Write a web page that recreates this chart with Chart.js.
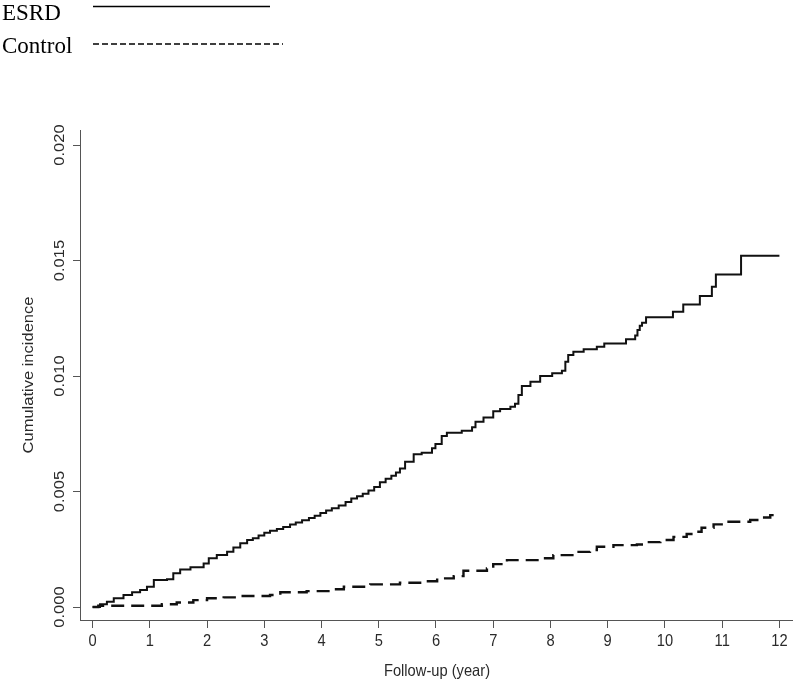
<!DOCTYPE html>
<html>
<head>
<meta charset="utf-8">
<script src="https://cdn.jsdelivr.net/npm/chart.js@4.4.0/dist/chart.umd.min.js"></script>
<style>
  html, body { margin: 0; padding: 0; background: #fff; }
  #wrap { width: 800px; height: 683px; }
</style>
</head>
<body>
<div id="wrap"><canvas id="incChart" width="800" height="683"></canvas></div>
<script>
// ===== DATA =====
const esrdTime = [
  0, 0.13, 0.25, 0.37, 0.54, 0.69, 0.83, 0.95, 1.07, 1.30,
  1.41, 1.53, 1.71, 1.94, 2.03, 2.17, 2.35, 2.46, 2.58, 2.70,
  2.80, 2.90, 3.00, 3.10, 3.22, 3.33, 3.45, 3.55, 3.66, 3.78,
  3.88, 3.98, 4.08, 4.18, 4.30, 4.42, 4.52, 4.62, 4.72, 4.82,
  4.92, 5.02, 5.12, 5.22, 5.30, 5.37, 5.46, 5.61, 5.75, 5.93,
  5.99, 6.10, 6.19, 6.45, 6.63, 6.69, 6.83, 7.00, 7.12, 7.30,
  7.38, 7.44, 7.50, 7.65, 7.82, 8.03, 8.20, 8.26, 8.31, 8.40,
  8.58, 8.81, 8.94, 9.32, 9.48, 9.52, 9.56, 9.60, 9.67, 10.14,
  10.32, 10.61, 10.82, 10.89, 11.33, 12.00
];
const esrdCum = [
  0, 0.00012, 0.00023, 0.00038, 0.00052, 0.00064, 0.00074, 0.00088, 0.00117, 0.00120,
  0.00146, 0.00163, 0.00172, 0.00189, 0.00211, 0.00225, 0.00239, 0.00258, 0.00276, 0.00290,
  0.00298, 0.00310, 0.00322, 0.00330, 0.00338, 0.00347, 0.00357, 0.00366, 0.00376, 0.00385,
  0.00395, 0.00407, 0.00418, 0.00428, 0.00440, 0.00455, 0.00470, 0.00480, 0.00490, 0.00505,
  0.00520, 0.00540, 0.00555, 0.00568, 0.00582, 0.00600, 0.00629, 0.00662, 0.00668, 0.00687,
  0.00706, 0.00740, 0.00755, 0.00763, 0.00778, 0.00802, 0.00820, 0.00848, 0.00857, 0.00867,
  0.00880, 0.00918, 0.00957, 0.00975, 0.01000, 0.01012, 0.01023, 0.01062, 0.01091, 0.01105,
  0.01116, 0.01127, 0.01141, 0.01159, 0.01175, 0.01199, 0.01218, 0.01231, 0.01255, 0.01278,
  0.01310, 0.01346, 0.01387, 0.01439, 0.01521, 0.01521
];

const ctrlTime = [
  0, 0.10, 1.21, 1.47, 1.76, 2.00, 2.29, 2.52, 3.10, 3.28,
  3.74, 4.21, 4.39, 4.85, 5.37, 5.81, 6.02, 6.31, 6.48, 6.89,
  7.00, 7.24, 7.82, 8.05, 8.46, 8.69, 8.81, 9.10, 9.51, 9.62,
  9.92, 10.15, 10.38, 10.50, 10.64, 10.85, 11.08, 11.49, 11.66, 11.84,
  11.98
];
const ctrlCum = [
  0, 0.00006, 0.00012, 0.00020, 0.00030, 0.00038, 0.00042, 0.00048, 0.00052, 0.00064,
  0.00069, 0.00077, 0.00088, 0.00098, 0.00105, 0.00112, 0.00124, 0.00134, 0.00157, 0.00167,
  0.00186, 0.00203, 0.00211, 0.00225, 0.00239, 0.00247, 0.00261, 0.00268, 0.00271, 0.00281,
  0.00290, 0.00304, 0.00316, 0.00326, 0.00343, 0.00358, 0.00369, 0.00377, 0.00388, 0.00398,
  0.00406
];

const seriesNames = ['ESRD', 'Control'];
const xTicks = [0, 1, 2, 3, 4, 5, 6, 7, 8, 9, 10, 11, 12];
const yTicks = [0, 0.005, 0.010, 0.015, 0.020];
const yTickLabels = ['0.000', '0.005', '0.010', '0.015', '0.020'];
const xTitle = 'Follow-up (year)';
const yTitle = 'Cumulative incidence';

const toPoints = (ts, vs) => ts.map((t, i) => ({ x: t, y: vs[i] }));

// ===== TEXT + LEGEND (drawn like the R plot) =====
const SANS = '"Liberation Sans", Arial, sans-serif';
const SQUEEZE = 0.89;

const rText = {
  id: 'rText',
  afterDraw(chart) {
    const c = chart.ctx;
    const xs = chart.scales.x, ys = chart.scales.y;
    c.save();
    c.fillStyle = '#2a2a2a';
    c.font = '16.5px ' + SANS;
    c.textAlign = 'center';
    c.textBaseline = 'alphabetic';

    xTicks.forEach(v => {
      c.save();
      c.translate(xs.getPixelForValue(v), 646);
      c.scale(SQUEEZE, 1);
      c.fillText(String(v), 0, 0);
      c.restore();
    });

    yTicks.forEach((v, i) => {
      c.save();
      c.translate(63.5, ys.getPixelForValue(v));
      c.rotate(-Math.PI / 2);
      c.scale(1, SQUEEZE);
      c.fillText(yTickLabels[i], 0, 0);
      c.restore();
    });

    // axis titles
    c.save();
    c.translate(437, 676);
    c.scale(SQUEEZE, 1);
    c.fillText(xTitle, 0, 0);
    c.restore();

    c.save();
    c.translate(33, (chart.chartArea.top + chart.chartArea.bottom) / 2);
    c.rotate(-Math.PI / 2);
    c.scale(1, SQUEEZE);
    c.fillText(yTitle, 0, 0);
    c.restore();

    // legend, top left
    c.fillStyle = '#000';
    c.strokeStyle = '#000';
    c.font = '23px "Liberation Serif", "Times New Roman", serif';
    c.textAlign = 'left';
    c.fillText(seriesNames[0], 2, 19.5);
    c.fillText(seriesNames[1], 2, 52.5);
    c.lineWidth = 1.3;
    c.beginPath();
    c.moveTo(93, 6.5);
    c.lineTo(270, 6.5);
    c.stroke();
    c.setLineDash([6, 3]);
    c.beginPath();
    c.moveTo(93, 44);
    c.lineTo(283, 44);
    c.stroke();
    c.restore();
  }
};

// ===== CHART =====
const ctx = document.getElementById('incChart');
new Chart(ctx, {
  type: 'line',
  data: {
    datasets: [{
      label: seriesNames[0],
      data: toPoints(esrdTime, esrdCum),
      borderColor: '#111',
      borderWidth: 2,
      stepped: true,
      pointRadius: 0,
      fill: false
    }, {
      label: seriesNames[1],
      data: toPoints(ctrlTime, ctrlCum),
      borderColor: '#111',
      borderWidth: 2.4,
      borderDash: [13, 7],
      stepped: true,
      pointRadius: 0,
      fill: false
    }]
  },
  options: {
    responsive: false,
    animation: false,
    devicePixelRatio: 1,
    layout: { padding: { top: 130, right: 8, bottom: 0, left: 0 } },
    plugins: { legend: { display: false }, tooltip: { enabled: false } },
    scales: {
      x: {
        type: 'linear',
        min: -0.22,
        max: 12.22,
        afterBuildTicks: s => { s.ticks = xTicks.map(v => ({ value: v })); },
        afterFit: s => { s.height = 63; },
        ticks: { display: false },
        grid: { display: true, drawOnChartArea: false, drawTicks: true, tickLength: 8, color: '#555', lineWidth: 1 },
        border: { display: true, color: '#555', width: 1 }
      },
      y: {
        min: -0.00056,
        max: 0.02065,
        afterBuildTicks: s => { s.ticks = yTicks.map(v => ({ value: v })); },
        afterFit: s => { s.width = 80; },
        ticks: { display: false },
        grid: { display: true, drawOnChartArea: false, drawTicks: true, tickLength: 7, color: '#555', lineWidth: 1 },
        border: { display: true, color: '#555', width: 1 }
      }
    }
  },
  plugins: [rText]
});
</script>
</body>
</html>
